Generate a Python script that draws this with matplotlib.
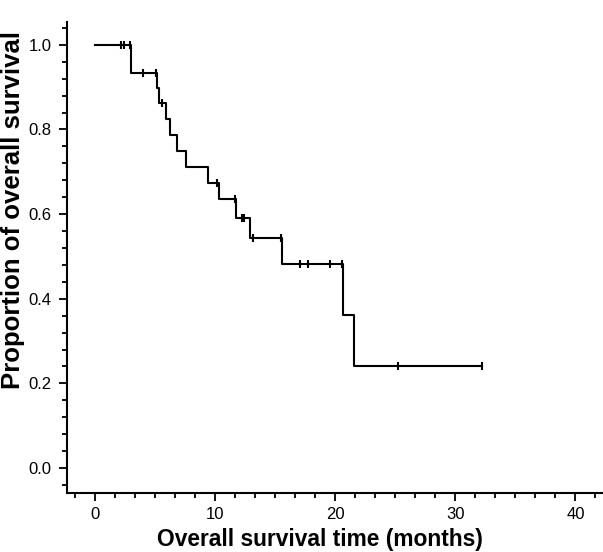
import matplotlib
matplotlib.use("Agg")
import matplotlib.pyplot as plt
from matplotlib.ticker import MultipleLocator
import numpy as np

# Kaplan-Meier step curve (time in months, survival proportion)
step_times = [0, 3.0, 5.14, 5.28, 5.92, 6.25, 6.81, 7.56, 9.36, 10.33, 11.71, 12.86, 15.53, 20.6, 21.53]
step_surv = [1.0, 0.933, 0.897, 0.862, 0.824, 0.787, 0.749, 0.712, 0.674, 0.635, 0.592, 0.543, 0.483, 0.362, 0.241]
end_time = 32.22

# censored observations
censor_times = [2.17, 2.36, 2.89, 3.98, 5.08, 5.56, 10.14, 11.67, 12.22, 12.42,
                13.13, 15.5, 17.03, 17.69, 19.58, 20.54, 25.22, 32.22]
censor_surv = [1.0, 1.0, 1.0, 0.933, 0.933, 0.862, 0.674, 0.635, 0.592, 0.592,
               0.543, 0.543, 0.483, 0.483, 0.483, 0.483, 0.241, 0.241]

x_ticks = [0, 10, 20, 30, 40]
y_ticks = [0.0, 0.2, 0.4, 0.6, 0.8, 1.0]

plt.rcParams['font.family'] = ['Liberation Sans', 'DejaVu Sans']

fig = plt.figure(figsize=(6.03, 5.52), dpi=100)
ax = fig.add_axes([67/603, 59/552, 536/603, 471/552])

xs = step_times + [end_time]
ys = step_surv + [step_surv[-1]]
ax.step(xs, ys, where='post', color='black', lw=1.5)
ax.plot(censor_times, censor_surv, ls='none', marker='|', ms=6, mew=1.5, color='black')

ax.set_xlim(-2.35, 42.3)
ax.set_ylim(-0.059, 1.054)

ax.set_xticks(x_ticks)
ax.set_xticklabels([str(v) for v in x_ticks])
ax.set_yticks(y_ticks)
ax.set_yticklabels([f"{v:.1f}" for v in y_ticks])
ax.xaxis.set_minor_locator(MultipleLocator(10/6))
ax.yaxis.set_minor_locator(MultipleLocator(0.04))

ax.tick_params(axis='both', which='major', direction='out', length=6, width=1.3, labelsize=12, pad=4)
ax.tick_params(axis='y', which='major', pad=5)
ax.tick_params(axis='both', which='minor', direction='out', length=3.5, width=1.3)

for s in ['top', 'right']:
    ax.spines[s].set_visible(False)
for s in ['left', 'bottom']:
    ax.spines[s].set_linewidth(1.5)

ax.set_xlabel('Overall survival time (months)', fontsize=16.4, fontweight='bold')
ax.set_ylabel('Proportion of overall survival', fontsize=18.5, fontweight='bold')
ax.xaxis.set_label_coords(0.472, -0.0745)
ax.yaxis.set_label_coords(-0.078, 0.60)

fig.savefig('out.png', dpi=100)
